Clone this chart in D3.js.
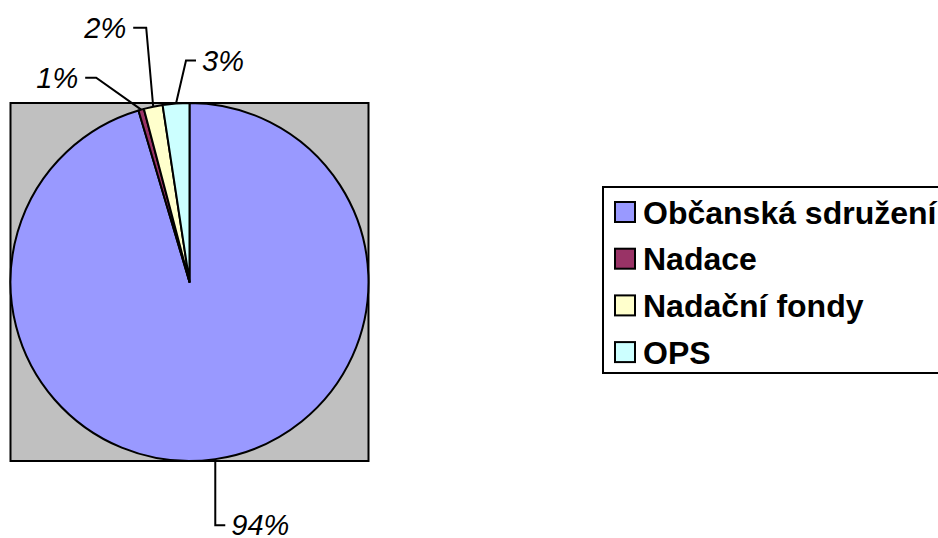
<!DOCTYPE html>
<html>
<head>
<meta charset="utf-8">
<script src="https://cdn.jsdelivr.net/npm/d3@7/dist/d3.min.js"></script>
<style>
  html, body { margin: 0; padding: 0; background: #fff; }
  svg { display: block; }
</style>
</head>
<body>
<svg id="chart" width="938" height="538"></svg>
<script>
// ---- data ----
const categories = ["Občanská sdružení", "Nadace", "Nadační fondy", "OPS"];
const values = [95.4, 0.5, 1.7, 2.4];
const percentLabels = ["94%", "1%", "2%", "3%"];
const colors = ["#9999FF", "#993366", "#FFFFCC", "#CCFFFF"];

// ---- layout ----
const W = 938, H = 538;
const cx = 189.5, cy = 282, r = 179;
// leader elbow offsets relative to the slice's edge point, and text side
const leaderLayout = [
  { dx: 0,   dy: 66,  hx: 10,  side: "start" },
  { dx: -45, dy: -32, hx: -11, side: "end" },
  { dx: -7,  dy: -79, hx: -13, side: "end" },
  { dx: 10,  dy: -43, hx: 10,  side: "start" }
];

const svg = d3.select("#chart");

// plot area (gray square behind the pie)
svg.append("rect")
  .attr("x", cx - r).attr("y", cy - r)
  .attr("width", 2 * r).attr("height", 2 * r)
  .attr("fill", "#C0C0C0")
  .attr("stroke", "#000").attr("stroke-width", 2);

const pie = d3.pie().sort(null).value(d => d.v).startAngle(0).endAngle(2 * Math.PI);
const data = categories.map((c, i) => ({ c, v: values[i], color: colors[i], label: percentLabels[i], lay: leaderLayout[i] }));
const arcs = pie(data);
const arc = d3.arc().innerRadius(0).outerRadius(r);

const g = svg.append("g").attr("transform", `translate(${cx},${cy})`);
g.selectAll("path.slice").data(arcs).enter().append("path")
  .attr("class", "slice")
  .attr("d", arc)
  .attr("fill", d => d.data.color)
  .attr("stroke", "#000")
  .attr("stroke-width", 2)
  .attr("stroke-linejoin", "round");

// leader lines + labels
arcs.forEach(d => {
  const mid = (d.startAngle + d.endAngle) / 2;
  const ex = Math.sin(mid) * r, ey = -Math.cos(mid) * r;
  const L = d.data.lay;
  const bx = ex + L.dx, by = ey + L.dy;
  const hx = bx + L.hx;
  g.append("polyline")
    .attr("points", `${ex},${ey} ${bx},${by} ${hx},${by}`)
    .attr("fill", "none").attr("stroke", "#000").attr("stroke-width", 2);
  g.append("text")
    .attr("x", hx + (L.side === "start" ? 6 : -7))
    .attr("y", by)
    .attr("dy", "0.35em")
    .attr("text-anchor", L.side)
    .attr("font-family", "Liberation Sans, Arial, sans-serif")
    .attr("font-style", "italic")
    .attr("font-size", 29)
    .attr("fill", "#000")
    .text(d.data.label);
});

// legend
const lg = svg.append("g");
const lx = 603, ly = 187, rowH = 46.7;
lg.append("rect")
  .attr("x", lx).attr("y", ly)
  .attr("width", 345).attr("height", 186)
  .attr("fill", "#fff").attr("stroke", "#000").attr("stroke-width", 2);
const rows = lg.selectAll("g.row").data(data).enter().append("g")
  .attr("class", "row")
  .attr("transform", (d, i) => `translate(${lx + 12},${ly + 25 + i * rowH})`);
rows.append("rect")
  .attr("x", 0).attr("y", -10).attr("width", 20).attr("height", 20)
  .attr("fill", d => d.color).attr("stroke", "#000").attr("stroke-width", 2);
rows.append("text")
  .attr("x", 28).attr("y", 0).attr("dy", "0.36em")
  .attr("font-family", "Liberation Sans, Arial, sans-serif")
  .attr("font-weight", "bold")
  .attr("font-size", 32)
  .attr("fill", "#000")
  .text(d => d.c);
</script>
</body>
</html>
